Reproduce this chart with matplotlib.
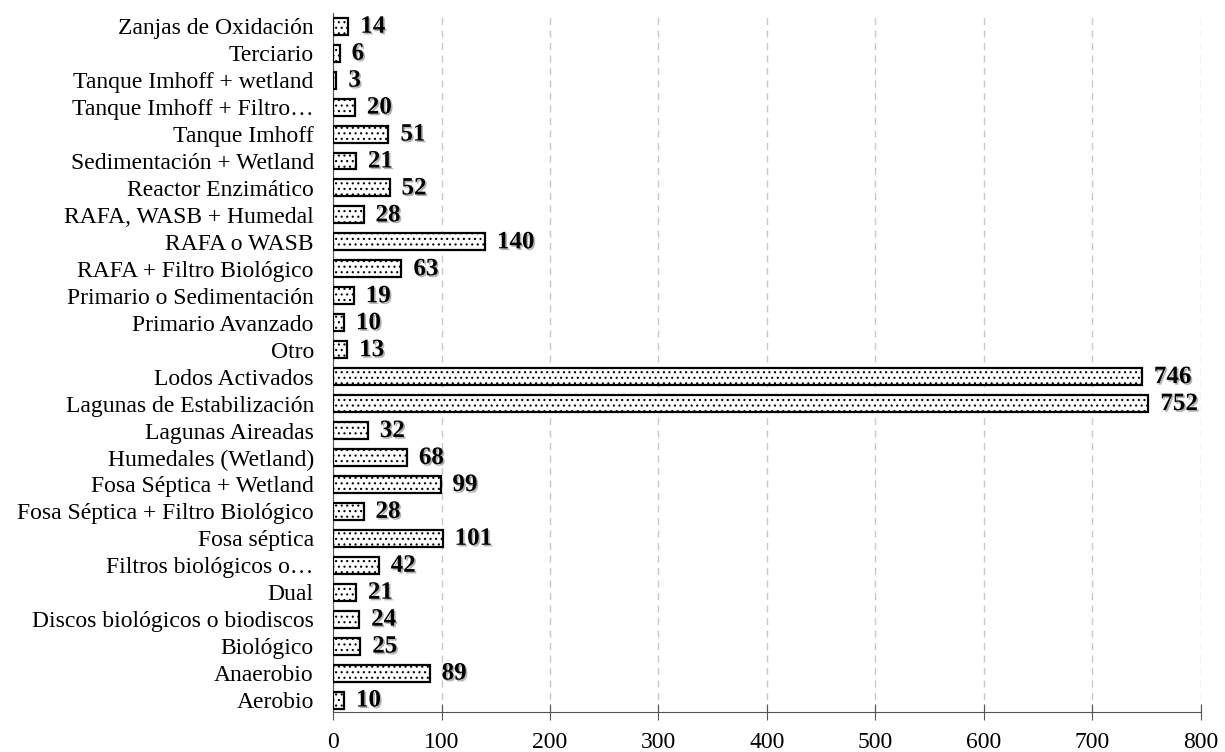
import matplotlib.pyplot as plt
import matplotlib.patheffects as pe

# Number of treatment plants per type of treatment
categories = [
    "Aerobio", "Anaerobio", "Biológico", "Discos biológicos o biodiscos",
    "Dual", "Filtros biológicos o…", "Fosa séptica",
    "Fosa Séptica + Filtro Biológico", "Fosa Séptica + Wetland",
    "Humedales (Wetland)", "Lagunas Aireadas", "Lagunas de Estabilización",
    "Lodos Activados", "Otro", "Primario Avanzado",
    "Primario o Sedimentación", "RAFA + Filtro Biológico", "RAFA o WASB",
    "RAFA, WASB + Humedal", "Reactor Enzimático", "Sedimentación + Wetland",
    "Tanque Imhoff", "Tanque Imhoff + Filtro…", "Tanque Imhoff + wetland",
    "Terciario", "Zanjas de Oxidación",
]
counts = [10, 89, 25, 24, 21, 42, 101, 28, 99, 68, 32, 752, 746, 13, 10,
          19, 63, 140, 28, 52, 21, 51, 20, 3, 6, 14]
x_ticks = [0, 100, 200, 300, 400, 500, 600, 700, 800]

plt.rcParams['font.family'] = ['Liberation Serif', 'DejaVu Serif']
plt.rcParams['hatch.linewidth'] = 0.8
plt.rcParams['hatch.color'] = '#222222'

fig = plt.figure(figsize=(12.25, 7.52), dpi=100)
ax = fig.add_axes([0.272, 0.053, 0.708, 0.93])

positions = range(len(categories))
bars = ax.barh(positions, counts, height=0.63, color='white',
               edgecolor='black', linewidth=1.6, hatch='...', zorder=3)

shadow = [pe.SimplePatchShadow(offset=(1.2, -1.2), shadow_rgbFace='0.5', alpha=0.6),
          pe.Normal()]
for y, v in zip(positions, counts):
    ax.text(v + 11, y, str(v), va='center', ha='left', fontsize=18,
            fontweight='bold', path_effects=shadow, zorder=4)

ax.set_yticks(list(positions))
ax.set_yticklabels(categories, fontsize=17)
ax.set_xticks(x_ticks)
ax.set_xticklabels([str(t) for t in x_ticks], fontsize=17)
ax.set_xlim(0, 800)
ax.set_ylim(-0.45, len(categories) - 0.5)

ax.grid(axis='x', color='#c8c8c8', linestyle=(0, (5, 4)), linewidth=1.0, zorder=0)
ax.tick_params(axis='y', length=0, pad=14)
ax.tick_params(axis='x', direction='inout', length=12, width=0.8, pad=8, color='#555555')
for side in ('top', 'right'):
    ax.spines[side].set_visible(False)
ax.spines['left'].set_color('#555555')
ax.spines['bottom'].set_color('#555555')

fig.savefig('out.png', dpi=100)
